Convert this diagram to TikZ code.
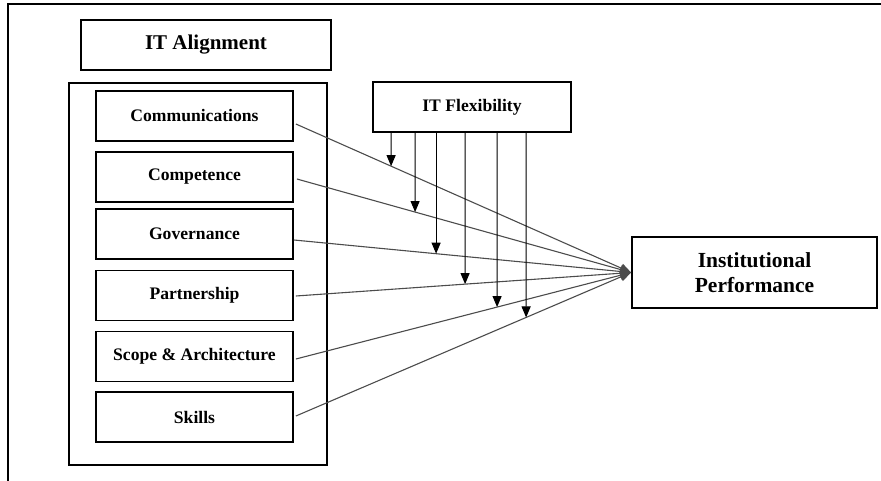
\documentclass[tikz,border=0pt]{standalone}
\usepackage{fontspec}
\setmainfont{Liberation Serif}
\usetikzlibrary{arrows.meta,calc}
\begin{document}
\begin{tikzpicture}[x=1pt,y=-1pt,
  box/.style={draw,line width=1.8pt,minimum width=197pt,minimum height=50pt,inner sep=0pt,
    font=\fontsize{17.6}{20}\selectfont\bfseries},
  bigbox/.style={draw,line width=1.8pt,inner sep=0pt,align=center,
    font=\fontsize{21.5}{25.5}\selectfont\bfseries},
  link/.style={draw=black!70,line width=1.1pt,-{Triangle[length=11pt,width=9pt]}},
  varrow/.style={draw=black,line width=1pt,-{Triangle[length=11pt,width=9pt]}}]
\useasboundingbox (0,0) rectangle (881,481);
\draw[line width=2.6pt] (8,481) -- (8,4) -- (881,4);
\node[bigbox,minimum width=250pt,minimum height=50pt,font=\fontsize{21}{25}\selectfont\bfseries] (title) at (206,45) {IT Alignment};
\node[draw,line width=1.6pt,minimum width=258pt,minimum height=382pt,inner sep=0pt] (group) at (198,274) {};
\node[box] (comm) at (194.5,116) {Communications};
\node[box] (comp) at (194.5,177) {Competence};
\node[box] (gov) at (194.5,234) {Governance};
\node[box] (part) at (194.5,295.5) {Partnership};
\node[box] (scope) at (194.5,356.5) {Scope \& Architecture};
\node[box] (skills) at (194.5,417) {Skills};
\node[box,minimum width=198pt] (flex) at (472,107) {IT Flexibility};
\node[bigbox,minimum width=245pt,minimum height=71pt] (ip) at (754.5,272.5) {Institutional\\Performance};
\coordinate (tgt) at (ip.west);
\coordinate (s1) at ($(comm.east)+(2,8)$);
\coordinate (s2) at ($(comp.east)+(3,2)$);
\coordinate (s3) at ($(gov.east)+(0,6)$);
\coordinate (s4) at ($(part.east)+(2,0.5)$);
\coordinate (s5) at ($(scope.east)+(2,2.5)$);
\coordinate (s6) at ($(skills.east)+(2,-1)$);
\foreach \s in {s1,s2,s3,s4,s5,s6}{\draw[link] (\s) -- (tgt);}
\foreach \i/\dx in {1/19,2/43,3/64,4/93,5/125,6/154}{
  \coordinate (f\i) at ($(flex.south west)+(\dx,0)$);
  \coordinate (g\i) at ($(f\i)+(0,300)$);
}
\draw[varrow] (f1) -- (intersection of s1--tgt and f1--g1);
\draw[varrow] (f2) -- (intersection of s2--tgt and f2--g2);
\draw[varrow] (f3) -- (intersection of s3--tgt and f3--g3);
\draw[varrow] (f4) -- (intersection of s4--tgt and f4--g4);
\draw[varrow] (f5) -- (intersection of s5--tgt and f5--g5);
\draw[varrow] (f6) -- (intersection of s6--tgt and f6--g6);
\end{tikzpicture}
\end{document}
